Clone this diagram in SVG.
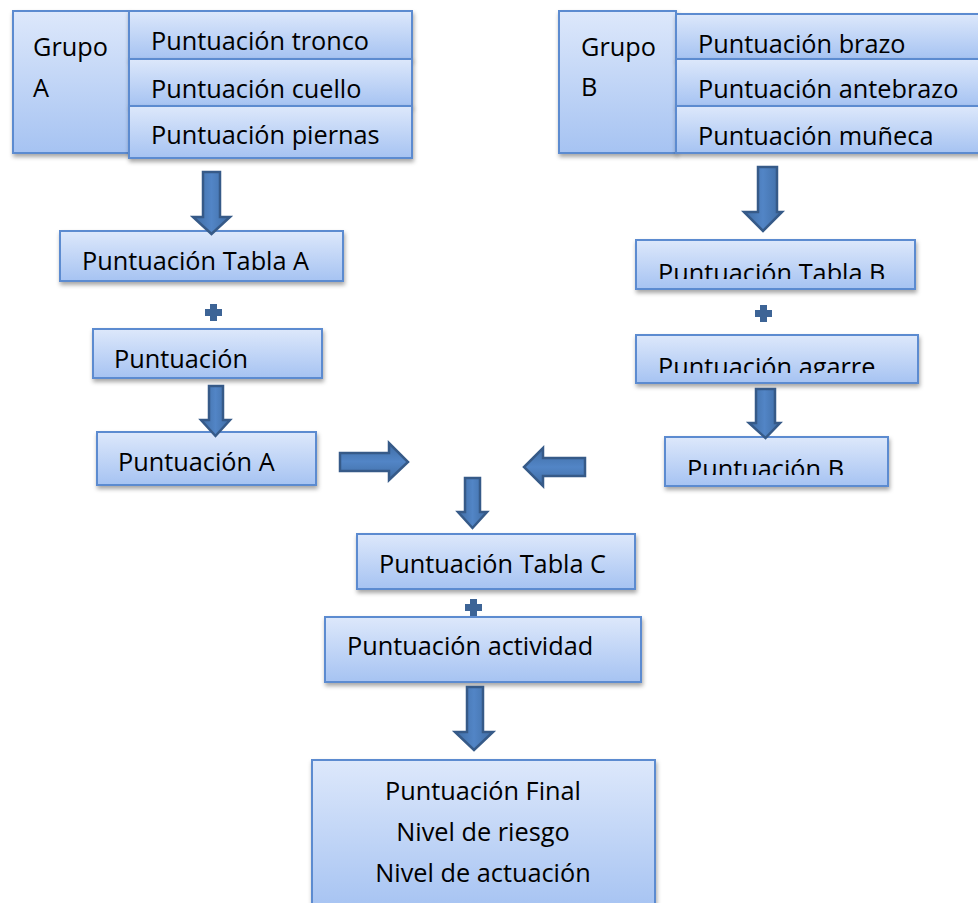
<svg xmlns="http://www.w3.org/2000/svg" width="978" height="903" viewBox="0 0 978 903">
<defs>
<linearGradient id="bg" x1="0" y1="0" x2="0" y2="1">
<stop offset="0" stop-color="#dde8fb"/>
<stop offset="1" stop-color="#a6c3f2"/>
</linearGradient>
<linearGradient id="ag" x1="0" y1="0" x2="1" y2="0">
<stop offset="0" stop-color="#3f6ca3"/>
<stop offset="0.5" stop-color="#5285c6"/>
<stop offset="1" stop-color="#3f6ca3"/>
</linearGradient>
<linearGradient id="agh" x1="0" y1="0" x2="0" y2="1">
<stop offset="0" stop-color="#3f6ca3"/>
<stop offset="0.5" stop-color="#5285c6"/>
<stop offset="1" stop-color="#3f6ca3"/>
</linearGradient>
<filter id="sh" x="-10%" y="-10%" width="125%" height="140%">
<feDropShadow dx="1" dy="3" stdDeviation="2" flood-color="#000" flood-opacity="0.35"/>
</filter>
<clipPath id="cTB"><rect x="636" y="240" width="279" height="39"/></clipPath>
<clipPath id="cAG"><rect x="636" y="335" width="282" height="38"/></clipPath>
<clipPath id="cPB"><rect x="665" y="437" width="223" height="38"/></clipPath>
</defs>
<style>
.box{fill:url(#bg);stroke:#5c8bd0;stroke-width:2;filter:url(#sh)}
.t{font-family:"Open Sans","Noto Sans","Liberation Sans",sans-serif;font-size:25.3px;fill:#000}
.c{text-anchor:middle}
.arr{fill:url(#ag);stroke:#365a88;stroke-width:2.5;stroke-linejoin:miter}
.arrh{fill:url(#agh);stroke:#365a88;stroke-width:2.5;stroke-linejoin:miter}
.plus{fill:#3d6496}
</style>
<rect width="978" height="903" fill="#fff"/>

<g id="grupoA">
<rect class="box" x="13" y="11" width="117" height="142"/>
<text class="t" x="33" y="56">Grupo</text>
<text class="t" x="33" y="97">A</text>
</g>
<g id="tronco">
<rect class="box" x="129" y="11" width="283" height="48"/>
<text class="t" x="151" y="50">Puntuación tronco</text>
</g>
<g id="cuello">
<rect class="box" x="129" y="59" width="283" height="47"/>
<text class="t" x="151" y="98">Puntuación cuello</text>
</g>
<g id="piernas">
<rect class="box" x="129" y="106" width="283" height="52"/>
<text class="t" x="151" y="144">Puntuación piernas</text>
</g>

<g id="grupoB">
<rect class="box" x="559" y="11" width="117" height="142"/>
<text class="t" x="581" y="56">Grupo</text>
<text class="t" x="581" y="96">B</text>
</g>
<g id="brazo">
<rect class="box" x="676" y="14" width="310" height="45"/>
<text class="t" x="698" y="53">Puntuación brazo</text>
</g>
<g id="antebrazo">
<rect class="box" x="676" y="59" width="310" height="47"/>
<text class="t" x="698" y="98">Puntuación antebrazo</text>
</g>
<g id="muneca">
<rect class="box" x="676" y="106" width="310" height="47"/>
<text class="t" x="698" y="145">Puntuación muñeca</text>
</g>

<g id="tablaA">
<rect class="box" x="60" y="231" width="283" height="50"/>
<text class="t" x="82" y="270">Puntuación Tabla A</text>
</g>
<g id="puntuacion">
<rect class="box" x="93" y="329" width="229" height="49"/>
<text class="t" x="114" y="368">Puntuación</text>
</g>
<g id="puntA">
<rect class="box" x="97" y="432" width="219" height="53"/>
<text class="t" x="118" y="471">Puntuación A</text>
</g>

<g id="tablaB">
<rect class="box" x="636" y="240" width="279" height="49"/>
<text class="t" x="658" y="282" clip-path="url(#cTB)">Puntuación Tabla B</text>
</g>
<g id="agarre">
<rect class="box" x="636" y="335" width="282" height="48"/>
<text class="t" x="658" y="376" clip-path="url(#cAG)">Puntuación agarre</text>
</g>
<g id="puntB">
<rect class="box" x="665" y="437" width="223" height="49"/>
<text class="t" x="687" y="478" clip-path="url(#cPB)">Puntuación B</text>
</g>

<g id="tablaC">
<rect class="box" x="357" y="534" width="278" height="55"/>
<text class="t" x="379" y="573">Puntuación Tabla C</text>
</g>
<g id="actividad">
<rect class="box" x="325" y="617" width="316" height="65"/>
<text class="t" x="347" y="655">Puntuación actividad</text>
</g>
<g id="final">
<rect class="box" x="312" y="760" width="343" height="150"/>
<text class="t c" x="483" y="800">Puntuación Final</text>
<text class="t c" x="483" y="841">Nivel de riesgo</text>
<text class="t c" x="483" y="882">Nivel de actuación</text>
</g>

<g id="connectors">
<path class="arr" d="M203,172 H220 V217 H230 L211.5,234 L193,217 H203 Z"/>
<path class="arr" d="M758,167 H777 V212 H782 L763,231 L744,212 H758 Z"/>
<path class="arr" d="M209,386 H223 V420 H230 L215.5,436 L201,420 H209 Z"/>
<path class="arr" d="M756,389 H775 V423 H780 L765.5,438 L749,423 H756 Z"/>
<path class="arr" d="M465,478 H480 V512 H487 L472.5,528 L458,512 H465 Z"/>
<path class="arr" d="M467,687 H483 V732 H493 L474,750 L455,732 H467 Z"/>
<path class="arrh" d="M340,453 H389 V443 L408,462 L389,480 V471 H340 Z"/>
<path class="arrh" d="M585,458 H543 V448 L524,467 L543,486 V476 H585 Z"/>
<path class="plus" d="M210,304 h7 v5 h5 v7 h-5 v5 h-7 v-5 h-5 v-7 h5 Z"/>
<path class="plus" d="M760,305 h7 v5 h5 v7 h-5 v5 h-7 v-5 h-5 v-7 h5 Z"/>
<path class="plus" d="M470,599 h7 v5 h5 v7 h-5 v5 h-7 v-5 h-5 v-7 h5 Z"/>
</g>
</svg>
